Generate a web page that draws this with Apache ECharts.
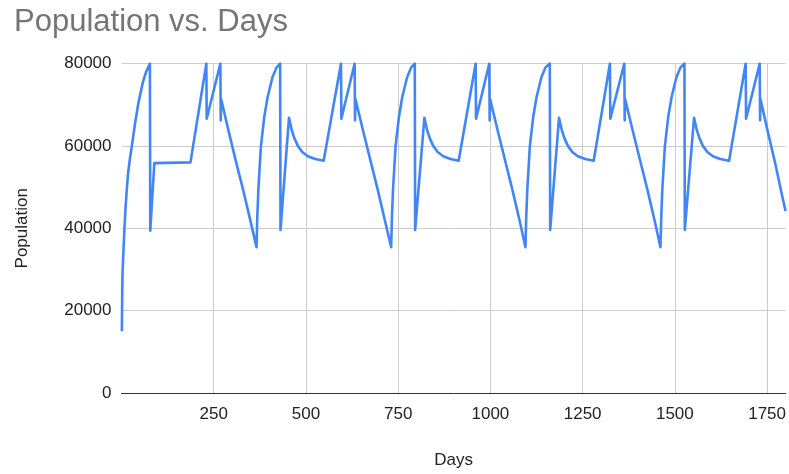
<!DOCTYPE html>
<html>
<head>
<meta charset="utf-8">
<script src="https://cdn.jsdelivr.net/npm/echarts@6/dist/echarts.min.js"></script>
<style>html,body{margin:0;padding:0;background:#fff}#chart{width:789px;height:474px}</style>
</head>
<body>
<div id="chart"></div>
<script>
const titleText = 'Population vs. Days';
const xName = 'Days';
const yName = 'Population';

const days = [
  1, 2, 3, 5, 8, 11, 14, 18, 23, 29, 36, 45, 52, 59, 66, 72, 77,
  78, 89, 187, 230, 231, 268, 269, 270,
  290, 310, 330, 350, 366,
  368, 371, 378, 387, 396, 409, 420, 430,
  431, 454, 461, 468, 478, 490, 505, 525, 548,
  595, 596, 632, 633, 634,
  655, 675, 695, 715, 731,
  733, 736, 743, 752, 761, 774, 785, 795,
  796, 821, 828, 835, 845, 857, 872, 892, 914,
  960, 961, 997, 998, 999,
  1020, 1040, 1060, 1080, 1095,
  1097, 1100, 1107, 1116, 1125, 1138, 1149, 1161,
  1162, 1186, 1193, 1200, 1210, 1222, 1237, 1257, 1280,
  1324, 1325, 1363, 1364, 1365,
  1386, 1406, 1426, 1446, 1461,
  1463, 1466, 1473, 1482, 1491, 1504, 1515, 1526,
  1527, 1552, 1559, 1566, 1576, 1588, 1603, 1623, 1647,
  1692, 1693, 1730, 1731, 1732,
  1752, 1772, 1790, 1800
];

const population = [
  15000, 25000, 29500, 34000, 40000, 45000, 49000, 53500, 57000, 60500, 65000, 70000, 73000, 75800, 77800, 79000, 80000,
  39400, 55800, 56000, 80000, 66600, 80000, 66200, 71400,
  63700, 56300, 49200, 41600, 35400,
  42500, 49400, 60000, 67000, 71800, 76600, 79000, 80000,
  39600, 66800, 64000, 62000, 60000, 58500, 57500, 56800, 56400,
  80000, 66600, 80000, 66200, 71400,
  63600, 56400, 49200, 41500, 35400,
  42500, 49400, 60000, 67000, 71800, 76600, 79000, 80000,
  39600, 66800, 64000, 62000, 60000, 58500, 57500, 56800, 56400,
  80000, 66600, 80000, 66200, 71400,
  63600, 56400, 49200, 41500, 35400,
  42500, 49400, 60000, 67000, 71800, 76600, 79000, 80000,
  39600, 66800, 64000, 62000, 60000, 58500, 57500, 56800, 56400,
  80000, 66600, 80000, 66200, 71400,
  63600, 56400, 49200, 41500, 35400,
  42500, 49400, 60000, 67000, 71800, 76600, 79000, 80000,
  39600, 66800, 64000, 62000, 60000, 58500, 57500, 56800, 56400,
  80000, 66600, 80000, 66200, 71400,
  63400, 55800, 48200, 44200
];

const yTicks = [0, 20000, 40000, 60000, 80000];
const xTickStep = 250;

const seriesData = days.map((d, i) => [d, population[i]]);
const FONT = '"Liberation Sans", Arial, sans-serif';

const chart = echarts.init(document.getElementById('chart'));
chart.setOption({
  animation: false,
  backgroundColor: '#ffffff',
  title: {
    text: titleText,
    left: 9,
    top: 2,
    textStyle: { fontFamily: FONT, fontSize: 31, fontWeight: 'normal', color: '#757575' }
  },
  grid: { left: 121.5, right: 0, top: 63.5, bottom: 76.7 },
  xAxis: {
    type: 'value',
    min: 0,
    max: 1800,
    interval: xTickStep,
    name: xName,
    nameLocation: 'middle',
    nameGap: 59,
    nameTextStyle: { fontFamily: FONT, fontSize: 17, color: '#222' },
    axisLine: { show: true, lineStyle: { color: '#333', width: 1 } },
    axisTick: { show: false },
    axisLabel: {
      margin: 13,
      fontFamily: FONT, fontSize: 17, color: '#222',
      formatter: v => (v === 0 || v % xTickStep !== 0) ? '' : String(v)
    },
    splitLine: { show: true, showMinLine: false, showMaxLine: false, lineStyle: { color: '#cccccc', width: 1 } }
  },
  yAxis: {
    type: 'value',
    min: yTicks[0],
    max: yTicks[yTicks.length - 1],
    interval: yTicks[1] - yTicks[0],
    name: yName,
    nameLocation: 'middle',
    nameGap: 91,
    nameTextStyle: { fontFamily: FONT, fontSize: 17, color: '#222' },
    axisLine: { show: false },
    axisTick: { show: false },
    axisLabel: { margin: 10, fontFamily: FONT, fontSize: 17, color: '#222', formatter: v => String(v) },
    splitLine: { show: true, lineStyle: { color: '#cccccc', width: 1 } }
  },
  series: [{
    type: 'line',
    data: seriesData,
    showSymbol: false,
    symbol: 'none',
    clip: true,
    lineStyle: { color: '#4285f4', width: 2.6, join: 'round' },
    itemStyle: { color: '#4285f4' }
  }]
});
</script>
</body>
</html>
